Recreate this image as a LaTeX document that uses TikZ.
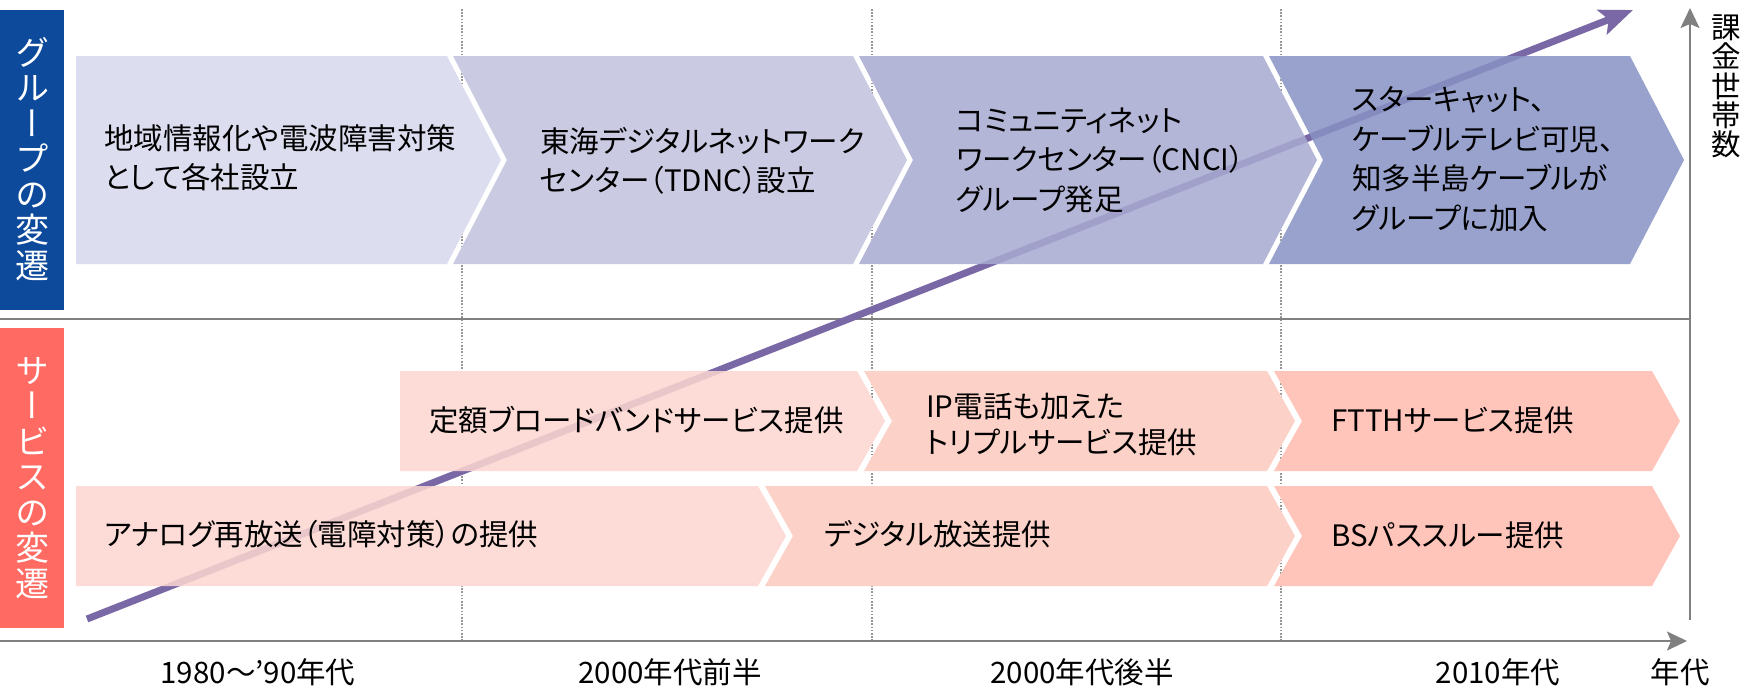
\documentclass[tikz,border=0pt]{standalone}
\usepackage{fontspec}
\setmainfont{Noto Sans CJK JP}[RawFeature={+palt}]
\newfontfamily\vfont{Noto Sans CJK JP}[RawFeature={+vert}]
\usetikzlibrary{arrows.meta}
\definecolor{gblue}{RGB}{13,74,155}
\definecolor{ssalmon}{RGB}{255,106,98}
\definecolor{gch1}{HTML}{D6D8ED}
\definecolor{gch2}{HTML}{C1C1DE}
\definecolor{gch3}{HTML}{A7AAD2}
\definecolor{gch4}{HTML}{8792C4}
\definecolor{sch1}{HTML}{FDD7D0}
\definecolor{sch2}{HTML}{FCCABE}
\definecolor{sch3}{HTML}{FFBAAE}
\definecolor{trendc}{RGB}{122,104,166}
\definecolor{axisc}{RGB}{128,128,128}
\definecolor{dotc}{RGB}{150,150,150}
\newcommand{\chevfill}[7]{%
  \pgfmathsetmacro\cym{(#4+#5)/2}%
  \pgfmathsetmacro\cxt{#3+#6}%
  \pgfmathsetmacro\cxn{#2+#7*#6}%
  \fill[#1] (#2,#4) -- (#3,#4) -- (\cxt,\cym) -- (#3,#5) -- (#2,#5) -- (\cxn,\cym) -- cycle;}
\begin{document}
\begin{tikzpicture}[x=1pt,y=-1pt,
  gtext/.style={anchor=west,inner sep=0pt,align=left,font=\fontsize{29.5}{39.5}\selectfont},
  stext/.style={anchor=west,inner sep=0pt,align=left,font=\fontsize{29.5}{36}\selectfont},
  ttext/.style={anchor=center,inner sep=0pt,font=\fontsize{29.5}{36}\selectfont},
  vlabel/.style={anchor=center,inner sep=0pt,align=center,text=white,font=\vfont\fontsize{34}{35.5}\selectfont},
  alabel/.style={anchor=center,inner sep=0pt,align=center,font=\vfont\fontsize{29.5}{29.4}\selectfont},
  axisline/.style={draw=axisc,line width=2pt},
  axisarrow/.style={axisline,-{Stealth[length=20pt,width=19pt,inset=4pt]}},
  dotline/.style={draw=dotc,line width=1.2pt,dash pattern=on 1.6pt off 1.6pt},
  trend/.style={draw=trendc,line width=7pt,-{Stealth[length=33pt,width=26pt,inset=7pt]}},
  cover/.style={fill=white},
  gbox/.style={fill opacity=0.85},
]
\useasboundingbox (0,0) rectangle (1740,688);
\fill[white] (0,0) rectangle (1740,688);

% dotted period dividers
\foreach \xx [count=\k] in {462,872,1281}{
  \coordinate (dt\k) at (\xx,9);
  \coordinate (db\k) at (\xx,641);
  \draw[dotline] (dt\k) -- (db\k);
}

% separator and axes
\coordinate (sepL) at (0,319);
\coordinate (sepR) at (1690,319);
\draw[axisline] (sepL) -- (sepR);
\coordinate (xa0) at (0,641);
\coordinate (xa1) at (1687,641);
\draw[axisarrow] (xa0) -- (xa1);
\coordinate (ya0) at (1690,620);
\coordinate (ya1) at (1690,8);
\draw[axisarrow] (ya0) -- (ya1);

% side label boxes
\fill[gblue] (0,10) rectangle (64,310);
\fill[ssalmon] (0,328) rectangle (64,628);
\node[vlabel] (glabel) at (32,159) {グ\\ル\\ー\\プ\\の\\変\\遷};
\node[vlabel] (slabel) at (32,478) {サ\\ー\\ビ\\ス\\の\\変\\遷};

% white covers under the chevrons (hide dotted lines)
\chevfill{cover}{76}{447}{56}{264}{54}{0}
\chevfill{cover}{453}{853}{56}{264}{54}{1}
\chevfill{cover}{859}{1263}{56}{264}{54}{1}
\chevfill{cover}{1269}{1630}{56}{264}{54}{1}
\chevfill{cover}{400}{857}{371}{471}{28}{0}
\chevfill{cover}{864}{1267}{371}{471}{28}{1}
\chevfill{cover}{1274}{1652}{371}{471}{28}{1}
\chevfill{cover}{76}{758}{486}{586}{28}{0}
\chevfill{cover}{765}{1267}{486}{586}{28}{1}
\chevfill{cover}{1274}{1652}{486}{586}{28}{1}

% trend arrow
\coordinate (trS) at (87,619);
\coordinate (trE) at (1633,10);
\draw[trend] (trS) -- (trE);

% coloured chevrons
\chevfill{gbox,fill=gch1}{76}{447}{56}{264}{54}{0}
\chevfill{gbox,fill=gch2}{453}{853}{56}{264}{54}{1}
\chevfill{gbox,fill=gch3}{859}{1263}{56}{264}{54}{1}
\chevfill{gbox,fill=gch4}{1269}{1630}{56}{264}{54}{1}
\chevfill{gbox,fill=sch1}{400}{857}{371}{471}{28}{0}
\chevfill{gbox,fill=sch2}{864}{1267}{371}{471}{28}{1}
\chevfill{gbox,fill=sch3}{1274}{1652}{371}{471}{28}{1}
\chevfill{gbox,fill=sch1}{76}{758}{486}{586}{28}{0}
\chevfill{gbox,fill=sch2}{765}{1267}{486}{586}{28}{1}
\chevfill{gbox,fill=sch3}{1274}{1652}{486}{586}{28}{1}

% group texts
\node[gtext] (g1) at (104,158) {地域情報化や電波障害対策\\として各社設立};
\node[gtext] (g2) at (540,161) {東海デジタルネットワーク\\センター（TDNC）設立};
\node[gtext] (g3) at (956,160) {コミュニティネット\\ワークセンター（CNCI）\\グループ発足};
\node[gtext] (g4) at (1352,159) {スターキャット、\\ケーブルテレビ可児、\\知多半島ケーブルが\\グループに加入};

% service texts
\node[stext] (s1) at (429,420) {定額ブロードバンドサービス提供};
\node[stext] (s2) at (926,424) {IP電話も加えた\\トリプルサービス提供};
\node[stext] (s3) at (1331,420) {FTTHサービス提供};
\node[stext] (s4) at (104,534) {アナログ再放送（電障対策）の提供};
\node[stext] (s5) at (824,534) {デジタル放送提供};
\node[stext] (s6) at (1331,535) {BSパススルー提供};

% time labels
\node[ttext] (t1) at (258,672) {1980～’90年代};
\node[ttext] (t2) at (670,672) {2000年代前半};
\node[ttext] (t3) at (1082,672) {2000年代後半};
\node[ttext] (t4) at (1498,672) {2010年代};
\node[ttext] (t5) at (1680,672) {年代};

% y-axis label
\node[alabel] (yal) at (1726,86.5) {課\\金\\世\\帯\\数};
\end{tikzpicture}
\end{document}
